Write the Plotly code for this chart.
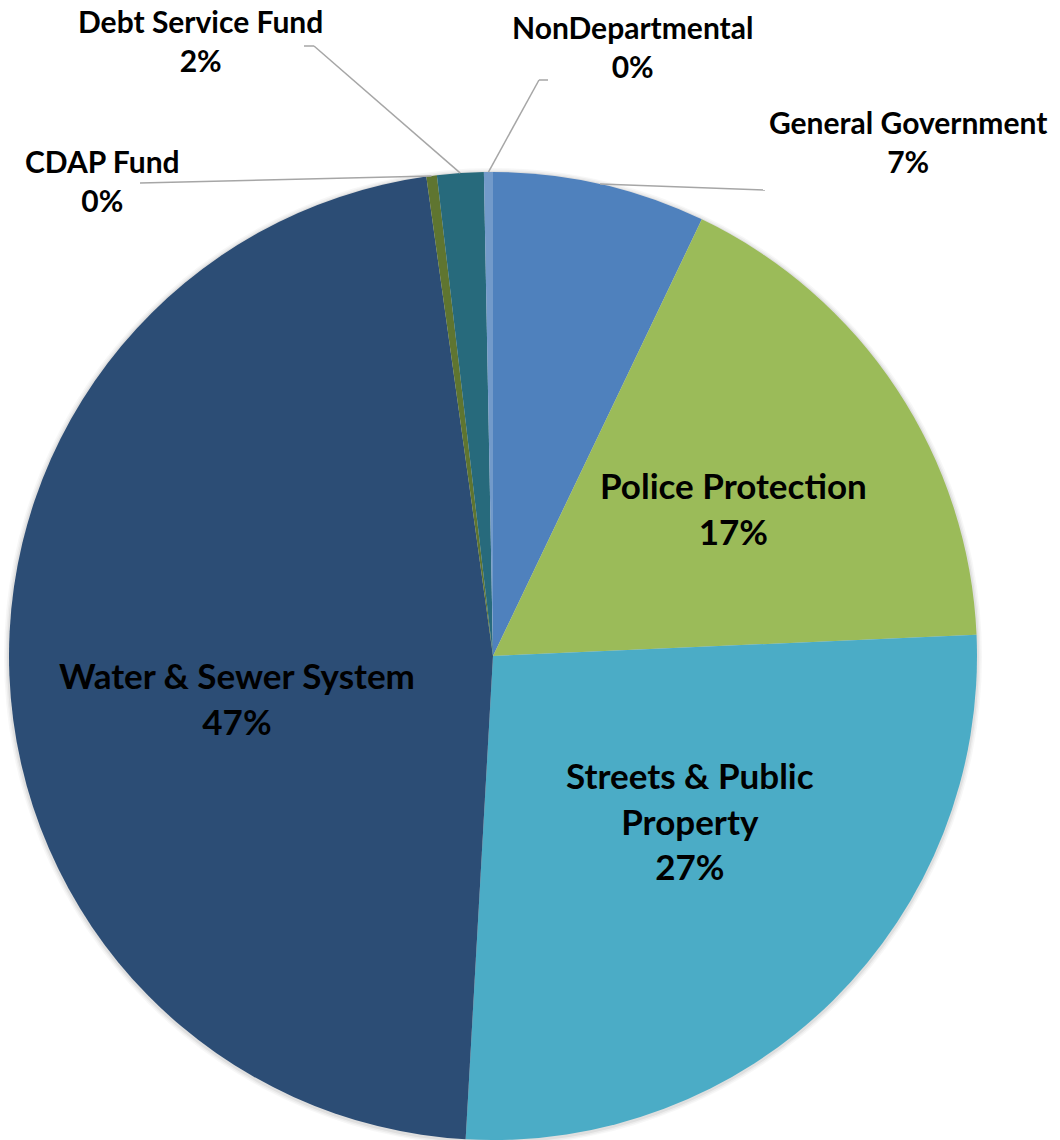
import math
import plotly.graph_objects as go

# Budget shares by fund / department (percent of total)
categories = [
    "General Government",
    "Police Protection",
    "Streets & Public Property",
    "Water & Sewer System",
    "CDAP Fund",
    "Debt Service Fund",
    "NonDepartmental",
]
shares = [7.1, 17.2, 26.6, 46.9, 0.35, 1.55, 0.3]
colors = ["#4F81BD", "#9BBB59", "#4BACC6", "#2C4D75", "#5F7530", "#276A7C", "#729ACA"]

# Display names (line breaks for long labels)
display_names = [
    "General Government",
    "Police Protection",
    "Streets & Public<br>Property",
    "Water & Sewer System",
    "CDAP Fund",
    "Debt Service Fund",
    "NonDepartmental",
]

W, H = 1060, 1140
CX, CY, R = 493, 656, 484  # pie centre and radius in pixels

total = sum(shares)
pct_text = [f"{round(v / total * 100)}%" for v in shares]

# mid-angle of every slice, clockwise from 12 o'clock
mid_angles = []
acc = 0.0
for v in shares:
    mid_angles.append((acc + v / 2) / total * 2 * math.pi)
    acc += v


def polar_px(theta, frac):
    return CX + frac * R * math.sin(theta), CY - frac * R * math.cos(theta)


def px_to_paper(x, y):
    return x / W, 1 - y / H


fig = go.Figure()
fig.add_trace(go.Pie(
    labels=categories,
    values=shares,
    sort=False,
    direction="clockwise",
    rotation=0,
    marker=dict(colors=colors, line=dict(width=0)),
    textinfo="none",
    hoverinfo="label+percent",
    showlegend=False,
    domain=dict(x=[(CX - R) / W, (CX + R) / W], y=[1 - (CY + R) / H, 1 - (CY - R) / H]),
))

# soft drop shadow around the pie
for grow, alpha in [(5, 0.03), (3.5, 0.04), (2, 0.06)]:
    x0, y0 = px_to_paper(CX - R - grow, CY + R + grow + 1)
    x1, y1 = px_to_paper(CX + R + grow, CY - R - grow + 1)
    fig.add_shape(type="circle", xref="paper", yref="paper", layer="below",
                  x0=x0, y0=y0, x1=x1, y1=y1,
                  fillcolor=f"rgba(0,0,0,{alpha})", line=dict(width=0))

font_in = dict(family="Lato, 'Open Sans', sans-serif", size=35, color="#000000")
font_out = dict(family="Lato, 'Open Sans', sans-serif", size=30, color="#000000")

# inside labels for the large slices: radial fraction and pixel nudge
inside = {
    1: dict(frac=0.58, nudge=(6, 7)),
    2: dict(frac=0.53, nudge=(17, -18)),
    3: dict(frac=0.53, nudge=(0, 32)),
}
for i, cfg in inside.items():
    x, y = polar_px(mid_angles[i], cfg["frac"])
    dx, dy = cfg["nudge"]
    px, py = px_to_paper(x + dx, y + dy)
    fig.add_annotation(
        x=px, y=py, xref="paper", yref="paper", xanchor="center", yanchor="middle",
        text=f"<b>{display_names[i]}<br>{pct_text[i]}</b>",
        showarrow=False, font=font_in, align="center",
    )

# outside labels: text anchor and leader-line elbow (pixels)
outside = {
    0: dict(text_xy=(908, 142), elbow=[(765, 190)]),
    4: dict(text_xy=(102, 180), elbow=[(140, 183)]),
    5: dict(text_xy=(200, 40), elbow=[(304, 46), (314, 46)]),
    6: dict(text_xy=(632, 46), elbow=[(548, 80), (539, 80)]),
}
for i, cfg in outside.items():
    tx, ty = cfg["text_xy"]
    px, py = px_to_paper(tx, ty)
    fig.add_annotation(
        x=px, y=py, xref="paper", yref="paper", xanchor="center", yanchor="middle",
        text=f"<b>{display_names[i]}<br>{pct_text[i]}</b>",
        showarrow=False, font=font_out, align="center",
    )
    pts = [polar_px(mid_angles[i], 1.0)] + list(reversed(cfg["elbow"]))
    for (x0, y0), (x1, y1) in zip(pts[:-1], pts[1:]):
        a0, b0 = px_to_paper(x0, y0)
        a1, b1 = px_to_paper(x1, y1)
        fig.add_shape(type="line", xref="paper", yref="paper",
                      x0=a0, y0=b0, x1=a1, y1=b1,
                      line=dict(color="#A6A6A6", width=1.5))

fig.update_layout(
    width=W, height=H,
    margin=dict(l=0, r=0, t=0, b=0),
    paper_bgcolor="white",
    plot_bgcolor="white",
)

fig.write_html("out.html")
